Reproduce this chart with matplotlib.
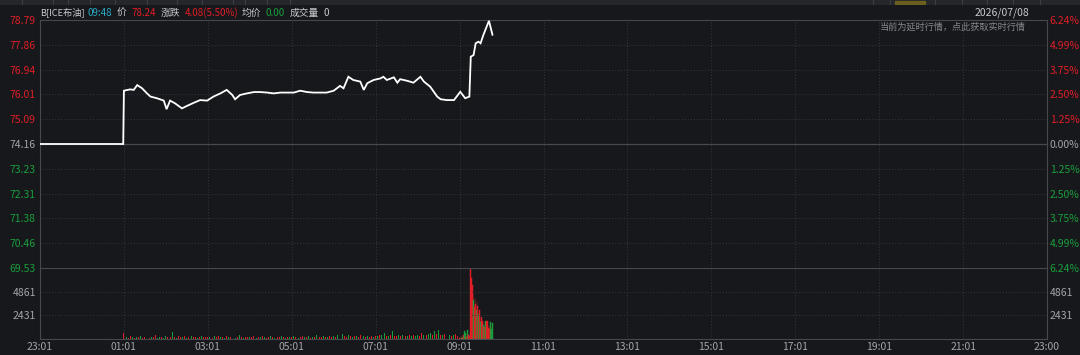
import matplotlib.pyplot as plt
import numpy as np

plt.rcParams['font.family'] = ['Noto Sans CJK SC', 'DejaVu Sans']

# ---- data ----
prev_close = 74.16
price_times = ["23:01", "01:00", "01:01", "01:10", "01:15", "01:20", "01:27", "01:34", "01:39",
               "01:48", "01:58", "02:02", "02:07", "02:14", "02:24", "02:31", "02:41", "02:50",
               "03:00", "03:09", "03:19", "03:28", "03:36", "03:40", "03:47", "03:57", "04:07",
               "04:16", "04:26", "04:35", "04:45", "04:54", "05:04", "05:13", "05:23", "05:32",
               "05:42", "05:51", "06:01", "06:10", "06:15", "06:22", "06:29", "06:39", "06:44",
               "06:49", "06:58", "07:08", "07:12", "07:17", "07:27", "07:32", "07:36", "07:46",
               "07:55", "08:05", "08:10", "08:19", "08:29", "08:34", "08:43", "08:53", "09:02",
               "09:09", "09:15", "09:17", "09:21", "09:24", "09:28", "09:31", "09:35", "09:43",
               "09:48"]
price_vals = [74.16, 74.16, 76.15, 76.20, 76.18, 76.36, 76.24, 76.05, 75.93,
              75.87, 75.78, 75.46, 75.78, 75.68, 75.49, 75.58, 75.70, 75.80,
              75.78, 75.93, 76.05, 76.18, 75.99, 75.83, 75.99, 76.05, 76.10,
              76.10, 76.08, 76.05, 76.08, 76.08, 76.08, 76.15, 76.10, 76.08,
              76.08, 76.08, 76.15, 76.33, 76.24, 76.67, 76.55, 76.49, 76.18,
              76.43, 76.55, 76.61, 76.67, 76.55, 76.65, 76.45, 76.58, 76.52,
              76.45, 76.67, 76.49, 76.30, 75.93, 75.83, 75.80, 75.80, 76.11,
              75.87, 75.93, 77.42, 77.48, 77.92, 77.98, 77.92, 78.23, 78.76,
              78.24]

# volume, 01:01-08:58 every 3 minutes (one row per hour)
vol_early = [
    600, 250, 150, 300, 200, 150, 250, 200, 350, 150, 200, 300, 150, 250, 200, 400, 150, 200, 250, 150,
    300, 200, 250, 750, 200, 150, 300, 250, 200, 350, 150, 200, 300, 250, 200, 150, 250, 300, 200, 250,
    200, 250, 150, 300, 200, 350, 250, 200, 150, 300, 250, 200, 300, 150, 250, 400, 200, 150, 250, 200,
    250, 200, 300, 150, 250, 200, 350, 200, 150, 250, 300, 200, 150, 250, 200, 300, 250, 150, 200, 250,
    200, 300, 250, 150, 200, 350, 250, 200, 300, 150, 250, 200, 450, 250, 200, 300, 250, 200, 350, 250,
    300, 250, 400, 350, 500, 300, 250, 450, 300, 250, 350, 300, 250, 400, 300, 250, 350, 200, 300, 250,
    350, 300, 450, 400, 600, 350, 300, 400, 800, 350, 300, 450, 350, 400, 300, 350, 450, 300, 400, 350,
    400, 350, 600, 450, 400, 500, 650, 400, 800, 550, 900, 450, 400, 500, 350, 450, 300, 400, 500, 350,
]
col_early = ("rgrrgrgrgrrgrgrrggrg" "grrgrgrrgrgrgrrgrgrr" "rgrgrrgrgrgrrgrgrgrr" "grrgrgrgrrgrgrrgrgrg"
             "rgrgrrgrgrgrgrrgrgrr" "grgrgrrgrgrgrrgrgrrg" "rgrggrgrgrrgrgrgrgrg" "grrgrggrgrgrgrrgrgrr")

# volume, 09:01-09:48 every minute
vol_late = [150, 80, 300, 120, 200, 250, 400, 850, 600, 300, 200, 950, 500, 400, 300, 650,
            7200, 6300, 5500, 4800, 4000, 3300, 4200, 3600, 3000, 3900, 3400, 2600, 3000, 2200,
            1700, 2300, 1500, 1800, 1400, 1700, 1200, 1900, 1900, 1300, 1800, 1100, 1400, 1000,
            1700, 1200, 1000, 1600]
col_late = ("rgrrgrrggrrgrrrg"
            "rrrrgrrrgrrgrrgr"
            "rrgrrgrrrrrrgrgg")

price_ticks = [78.79, 77.86, 76.94, 76.01, 75.09, 74.16, 73.23, 72.31, 71.38, 70.46, 69.53]
pct_labels = ["6.24%", "4.99%", "3.75%", "2.50%", "1.25%", "0.00%",
              "1.25%", "2.50%", "3.75%", "4.99%", "6.24%"]
vol_ticks = [4861, 2431]
time_labels = ["23:01", "01:01", "03:01", "05:01", "07:01", "09:01", "11:01",
               "13:01", "15:01", "17:01", "19:01", "21:01", "23:00"]

BG = '#16181c'
GRID = '#34373d'
LINE = '#45484f'
RED = '#e01e26'
GREEN = '#1a9e3c'
GREY = '#a3a5aa'
TXT = '#c9cacd'


def tmin(s):
    h, m = map(int, s.split(':'))
    return ((h * 60 + m) - (23 * 60 + 1)) % 1440


W, H = 1080, 355
fig = plt.figure(figsize=(W / 100, H / 100), dpi=100, facecolor=BG)


def box(x0, y0, x1, y1):
    return [x0 / W, 1 - y1 / H, (x1 - x0) / W, (y1 - y0) / H]


ax = fig.add_axes(box(40, 20, 1047, 268), facecolor=BG)
axv = fig.add_axes(box(40, 268, 1047, 339), facecolor=BG, sharex=ax)

# price line
xs = [tmin(t) for t in price_times]
ax.plot(xs, price_vals, color='white', lw=1.3, solid_joinstyle='miter', zorder=3)
ax.set_xlim(0, 1440)
ax.set_ylim(69.53, 78.79)

# volume bars
xe = [tmin("01:01") + 3 * i for i in range(len(vol_early))]
ce = [RED if c == 'r' else GREEN for c in col_early]
axv.bar(xe, vol_early, width=1.4, color=ce, align='center', lw=0)
xl = [tmin("09:01") + i for i in range(len(vol_late))]
cl = [RED if c == 'r' else GREEN for c in col_late[:len(vol_late)]]
axv.bar(xl, vol_late, width=1.0, color=cl, edgecolor=cl, lw=0.3, align='center')
axv.set_ylim(0, 7292)

tick_x = [tmin(t) for t in time_labels]
for a in (ax, axv):
    for s in a.spines.values():
        s.set_color(LINE)
        s.set_linewidth(0.8)
    a.tick_params(length=0)
    for xv in tick_x[1:-1]:
        a.axvline(xv, color=GRID, lw=0.7, ls=(0, (1, 2)), zorder=1)

ax.spines['bottom'].set_visible(False)
for p in price_ticks[1:-1]:
    if p == prev_close:
        ax.axhline(p, color=LINE, lw=0.9, zorder=1)
    else:
        ax.axhline(p, color=GRID, lw=0.7, ls=(0, (1, 2)), zorder=1)
for v in vol_ticks:
    axv.axhline(v, color=GRID, lw=0.7, ls=(0, (1, 2)), zorder=1)

# left / right price labels
ax.tick_params(axis='x', labelbottom=False)
ax.set_yticks(price_ticks)
ax.set_yticklabels([f"{p:.2f}" for p in price_ticks], fontsize=7.5)
ax.tick_params(axis='y', pad=3)
ax2 = ax.twinx()
ax2.set_ylim(ax.get_ylim())
ax2.set_yticks(price_ticks)
ax2.set_yticklabels(pct_labels, fontsize=7.5)
ax2.tick_params(length=0, pad=2)
for s in ax2.spines.values():
    s.set_visible(False)
for i, p in enumerate(price_ticks):
    c = RED if p > prev_close else (GREEN if p < prev_close else GREY)
    ax.get_yticklabels()[i].set_color(c)
    ax2.get_yticklabels()[i].set_color(c)

axv.set_yticks(vol_ticks)
axv.set_yticklabels([str(v) for v in vol_ticks], fontsize=7.5, color=GREY)
axv.tick_params(axis='y', pad=3)
axv2 = axv.twinx()
axv2.set_ylim(axv.get_ylim())
axv2.set_yticks(vol_ticks)
axv2.set_yticklabels([str(v) for v in vol_ticks], fontsize=7.5, color=GREY)
axv2.tick_params(length=0, pad=2)
for s in axv2.spines.values():
    s.set_visible(False)
axv.set_xticks(tick_x)
axv.set_xticklabels(time_labels, fontsize=7.5, color=GREY)
axv.tick_params(axis='x', pad=2)

# header
hy = 1 - 13 / H
header = [(40, "B[ICE布油]", TXT, 6.7), (88, "09:48", '#2aa9c4', 7), (117, "价", TXT, 7),
          (131, "78.24", RED, 7), (161, "涨跌", TXT, 7), (185, "4.08(5.50%)", RED, 7),
          (242, "均价", TXT, 7), (265, "0.00", GREEN, 7), (290, "成交量", TXT, 7),
          (323, "0", TXT, 7)]
for x, s, c, fs in header:
    fig.text(x / W, hy, s, color=c, fontsize=fs, va='center', ha='left')
fig.text(1029 / W, hy, "2026/07/08", color=TXT, fontsize=7.5, va='center', ha='right')
fig.text(1026 / W, 1 - 27 / H, "当前为延时行情，点此获取实时行情", color='#85878c',
         fontsize=6.6, va='center', ha='right')

# toolbar strip at the very top (mostly scrolled out of view)
axt = fig.add_axes(box(0, 0, 1080, 5), facecolor='#24262b')
axt.set_xlim(0, 1080)
axt.set_ylim(5, 0)
axt.axis('off')
axt.add_patch(plt.Rectangle((0, 0), 1080, 5, color='#24262b'))
for x in [22, 53, 68, 90, 115, 147, 177, 202, 233, 245, 267, 290, 873, 890, 935, 962, 987, 1013, 1040]:
    axt.plot([x, x], [0, 5], color='#3b3e44', lw=0.8)
axt.add_patch(plt.Rectangle((895, 1), 30, 3, color='#6b5f1e'))

fig.savefig("out.png", dpi=100, facecolor=BG)
